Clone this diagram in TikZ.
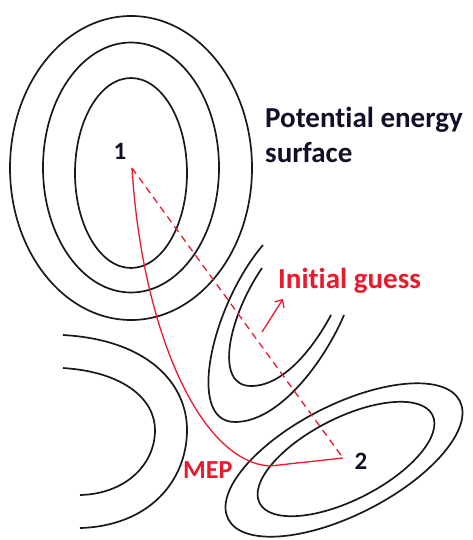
\documentclass[tikz,border=0pt]{standalone}
\usepackage{fontspec}
\setmainfont{Carlito}[Ligatures=NoCommon]
\usetikzlibrary{arrows.meta}
\definecolor{pred}{RGB}{235,25,45}
\definecolor{ink}{RGB}{20,15,40}
\tikzset{
  contour/.style={draw=black!90, line width=1.7pt},
  redline/.style={draw=pred, line width=1.3pt},
  lbl/.style={font=\bfseries\fontsize{29}{34}\selectfont, inner sep=0pt},
  num/.style={font=\bfseries\fontsize{25}{30}\selectfont, inner sep=0pt, text=ink},
}
\begin{document}
\begin{tikzpicture}[x=1pt,y=-1pt]
\useasboundingbox (0,0) rectangle (472,540);
% top minimum
\draw[contour] (131,168) ellipse [x radius=121, y radius=152];
\draw[contour] (131,167.5) ellipse [x radius=88, y radius=125];
\draw[contour] (131,173) ellipse [x radius=56, y radius=95];
% left arcs
\draw[contour] (63,335) .. controls (150,340) and (187,385) .. (187,430) .. controls (187,480) and (150,526) .. (80,528);
\draw[contour] (63,368) .. controls (125,372) and (155,400) .. (155,430) .. controls (155,465) and (125,494) .. (80,495);
% valley
\draw[contour] (263,245) .. controls (212,305) and (185,422) .. (235,422) .. controls (280,422) and (325,360) .. (344,315);
\draw[contour] (262,268) .. controls (228,318) and (214,386) .. (251,386) .. controls (285,386) and (315,345) .. (331,315);
% bottom minimum
\draw[contour, rotate around={27:(344,460)}] (344,460) ellipse [x radius=130, y radius=55];
\draw[contour, rotate around={27:(346,459)}] (346,459) ellipse [x radius=97, y radius=41];
% points
\coordinate (p1) at (132,168);
\coordinate (p2) at (343,458);
\coordinate (k) at (270,466);
\node[num] (n1) at (120,151) {1};
\node[num] (n2) at (361,461) {2};
% paths
\draw[redline, dash pattern=on 7pt off 5pt] (p1) -- (p2);
\draw[redline] (p1) .. controls (142,330) and (200,462) .. (k) -- (p2);
\coordinate (a1) at (262,332);
\coordinate (a2) at (283,299);
\draw[redline, -{Straight Barb[length=6pt,width=11pt]}] (a1) -- (a2);
% labels
\node[lbl, text=pred, anchor=base west] (ig) at (278,288) {Initial guess};
\node[lbl, text=pred, anchor=base west, font=\bfseries\fontsize{26}{30}\selectfont] (mep) at (183,478) {MEP};
\node[lbl, text=ink, anchor=base west] (pes) at (265,128) {Potential energy};
\node[lbl, text=ink, anchor=base west] (pes2) at (265,162) {surface};
\end{tikzpicture}
\end{document}
